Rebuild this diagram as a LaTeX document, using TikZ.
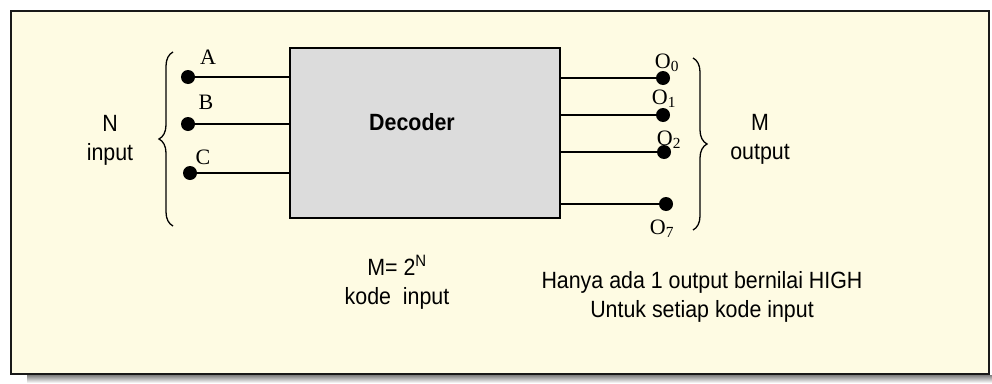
\documentclass[tikz,border=0pt]{standalone}
\usepackage{fontspec}
\setmainfont[FakeStretch=0.91]{Liberation Sans}
\newfontfamily\serifpin{Liberation Serif}
\usetikzlibrary{decorations.pathreplacing}
\definecolor{panel}{HTML}{FEFBE3}
\definecolor{shade}{HTML}{C9BA82}
\definecolor{boxgray}{HTML}{DCDCDC}

\begin{document}
\begin{tikzpicture}[x=1pt,y=-1pt,
  dot/.style={circle,fill=black,inner sep=0pt,minimum size=14pt},
  pin/.style={font=\fontsize{22}{24}\selectfont\serifpin,inner sep=0pt},
  txt/.style={font=\fontsize{23.5}{29}\selectfont,align=center,inner sep=0pt},
  wire/.style={line width=1.4pt},
  curly/.style={decorate,decoration={brace,amplitude=14pt},line width=1.3pt}]
\useasboundingbox (0,0) rectangle (992,383);

\fill[shade] (27,375) rectangle (992,383);
\draw[fill=panel,draw=black!90,line width=2pt] (11,11) rectangle (989,374);

\node[draw,fill=boxgray,line width=1.4pt,minimum width=270pt,minimum height=170pt] (dec) at (425,133) {};
\node[font=\fontsize{23.5}{26}\selectfont\bfseries,inner sep=0pt] (declbl) at (412,122) {Decoder};

% inputs
\node[dot] (a) at (188,77) {};
\node[dot] (b) at (188,124) {};
\node[dot] (c) at (190,173) {};
\node[pin] (la) at (208,57) {A};
\node[pin] (lb) at (206,102) {B};
\node[pin] (lc) at (203,157) {C};

% outputs
\node[dot] (o0) at (663,78) {};
\node[dot] (o1) at (663,115) {};
\node[dot] (o2) at (664,152) {};
\node[dot] (o7) at (666,204) {};
\node[pin] (lo0) at (667,63) {O\textsubscript{0}};
\node[pin] (lo1) at (664,99) {O\textsubscript{1}};
\node[pin] (lo2) at (669,140) {O\textsubscript{2}};
\node[pin] (lo7) at (662,229) {O\textsubscript{7}};

\path[wire]
(a) edge (a -| dec.west)  (b) edge (b -| dec.west)  (c) edge (c -| dec.west)
(o0 -| dec.east) edge (o0)  (o1 -| dec.east) edge (o1)
(o2 -| dec.east) edge (o2)  (o7 -| dec.east) edge (o7);

\coordinate (inlo) at (173,226);
\coordinate (inhi) at (173,52);
\coordinate (outhi) at (693,58);
\coordinate (outlo) at (693,230);
\draw[curly] (inlo) -- (inhi);
\draw[curly] (outhi) -- (outlo);

\node[txt] (nin) at (110,140) {N\\input};
\node[txt] (mout) at (760,139) {M\\output};
\node[txt] (kode) at (397,282) {M= 2\textsuperscript{N}\\kode~ input};
\node[txt] (note) at (702,297) {Hanya ada 1 output bernilai HIGH\\Untuk setiap kode input};
\end{tikzpicture}
\end{document}
